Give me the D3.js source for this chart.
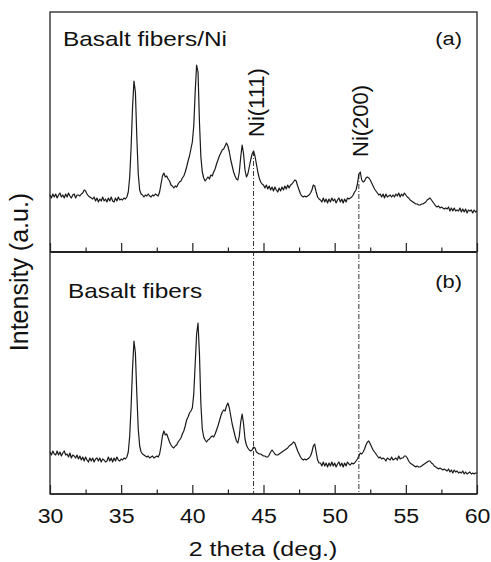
<!DOCTYPE html>
<html>
<head>
<meta charset="utf-8">
<script src="https://cdn.jsdelivr.net/npm/d3@7"></script>
<style>
  body { margin: 0; background: #fff; }
  svg { display: block; font-family: "Liberation Sans", Arial, sans-serif; }
</style>
</head>
<body>
<svg width="491" height="562"></svg>
<script>
// scan grid: 2 theta from 30 to 60 deg, 0.1 deg step
var thetaStart = 30,
    thetaStep = 0.1;

var xTicks = [30, 35, 40, 45, 50, 55, 60],
    xMinorTicks = [32.5, 37.5, 42.5, 47.5, 52.5, 57.5];

// (a) Basalt fibers/Ni, intensity (a.u.)
var basaltNi = [
  57,54,58,55,58,54,57,59,55,57,
  54,58,55,59,56,54,57,58,54,57,
  57,56,58,59,62,61,58,56,55,54,
  53,55,51,54,50,53,51,55,51,53,
  50,54,51,55,51,50,54,51,55,52,
  53,52,54,53,55,60,75,105,145,171,
  160,115,78,62,58,57,55,57,56,58,
  56,55,57,56,58,57,56,60,68,76,
  79,75,76,73,71,67,66,64,66,65,
  68,70,71,74,76,80,85,91,96,103,
  110,126,160,187,180,130,95,80,74,71,
  73,75,73,77,76,80,83,88,92,96,
  99,102,103,106,109,106,100,92,86,80,
  76,73,72,80,95,107,98,82,75,78,
  85,92,98,101,96,88,80,74,70,68,
  67,64,67,63,66,62,65,61,65,62,
  60,64,61,65,62,66,63,67,64,67,
  68,70,72,71,66,62,58,56,55,56,
  55,56,57,59,62,67,66,60,55,53,
  52,50,54,50,53,49,53,50,54,51,
  53,49,52,54,50,53,49,53,50,54,
  53,54,55,57,60,62,68,78,80,72,
  70,71,74,75,74,72,69,66,63,61,
  59,57,58,55,58,54,58,55,56,57,
  55,57,55,58,56,59,55,58,56,59,
  57,55,54,52,51,50,49,48,48,47,
  47,48,48,49,50,52,53,54,52,50,
  48,46,45,46,44,45,44,43,44,43,
  45,41,44,41,44,41,42,41,44,40,
  43,40,43,39,42,41,42,39,42,40,
  41
];

// (b) Basalt fibers, intensity (a.u.)
var basalt = [
  42,39,43,40,39,43,39,42,38,41,
  43,39,40,37,41,36,39,38,36,39,
  35,38,34,37,33,37,34,32,36,33,
  36,32,35,36,33,36,32,35,34,32,
  33,37,33,36,32,36,33,37,34,33,
  35,34,36,35,37,42,58,88,126,153,
  141,100,65,48,42,40,39,38,37,38,
  36,37,38,36,37,38,37,40,48,58,
  63,59,60,56,52,49,47,46,48,49,
  52,54,56,60,63,68,74,77,81,83,
  86,100,130,160,171,140,90,65,57,54,
  52,54,55,57,58,57,60,64,68,73,
  78,82,84,83,88,91,86,78,70,64,
  58,53,51,58,72,80,70,55,49,46,
  44,43,44,47,46,42,41,40,40,39,
  38,38,37,37,39,42,44,42,40,39,
  39,40,41,42,43,44,45,46,48,49,
  50,52,51,47,43,40,37,35,34,35,
  34,35,36,38,42,48,50,42,34,31,
  31,28,32,28,31,27,31,28,32,28,
  31,27,30,32,28,31,27,31,28,32,
  30,29,31,30,31,33,35,38,41,40,
  42,45,49,52,53,50,47,44,42,40,
  38,36,37,35,36,35,33,36,35,34,
  37,34,35,36,34,38,35,36,36,38,
  38,36,33,31,30,29,28,27,28,27,
  27,28,29,30,31,32,33,33,31,30,
  28,27,26,25,26,25,24,25,24,23,
  25,22,24,21,24,22,23,21,22,21,
  23,20,22,20,21,22,20,21,20,21,
  21
];

var niPeaks = [
  {label: "Ni(111)", theta: 44.3},
  {label: "Ni(200)", theta: 51.7}
];

var panelNames = ["Basalt fibers/Ni", "Basalt fibers"],
    panelTags = ["(a)", "(b)"];

// **************************

var svg = d3.select("svg"),
    left = 50, right = 477,
    topA = 12, mid = 252, bottom = 494,
    ink = "#222";

var x = d3.scaleLinear().domain([30, 60]).range([left, right]);
var yA = d3.scaleLinear().domain([0, mid - topA]).range([mid, topA]);
var yB = d3.scaleLinear().domain([0, bottom - mid]).range([bottom, mid]);

function theta(i) { return +(thetaStart + i * thetaStep).toFixed(2); }
function valueAt(series, t) { return series[Math.round((t - thetaStart) / thetaStep)]; }

// frame
svg.append("rect")
    .attr("x", left).attr("y", topA)
    .attr("width", right - left).attr("height", bottom - topA)
    .attr("fill", "none").attr("stroke", ink).attr("stroke-width", 1.3);

// Ni reference lines (dash-dot), from the peak in (a) down through (b)
svg.selectAll(".niline")
    .data(niPeaks)
    .enter().append("line")
      .attr("class", "niline")
      .attr("x1", function(d) { return x(d.theta); })
      .attr("x2", function(d) { return x(d.theta); })
      .attr("y1", function(d) { return yA(valueAt(basaltNi, d.theta)); })
      .attr("y2", bottom)
      .attr("stroke", "#333")
      .attr("stroke-width", 1)
      .attr("stroke-dasharray", "5,2,1,2");

// axes: ticks point inward (upward) on the divider and at the bottom
function drawTicks(yPos, withLabels) {
  var major = svg.append("g")
      .attr("transform", "translate(0," + yPos + ")")
      .call(d3.axisBottom(x).tickValues(xTicks).tickSize(-9).tickPadding(14)
        .tickFormat(withLabels ? d3.format("d") : ""));
  var minor = svg.append("g")
      .attr("transform", "translate(0," + yPos + ")")
      .call(d3.axisBottom(x).tickValues(xMinorTicks).tickSize(-4.5).tickFormat(""));
  [major, minor].forEach(function(g) {
    g.select(".domain").remove();
    g.selectAll("line").attr("stroke", ink).attr("stroke-width", 1.2);
  });
  major.selectAll("text")
      .attr("fill", "#111")
      .style("font-size", "21px")
      .style("font-family", "'Liberation Sans', Arial, sans-serif")
      .attr("transform", "scale(1.1,1)");
}
drawTicks(mid, false);
drawTicks(bottom, true);

svg.append("line")
    .attr("x1", left).attr("x2", right)
    .attr("y1", mid).attr("y2", mid)
    .attr("stroke", ink).attr("stroke-width", 2);
svg.append("line")
    .attr("x1", left).attr("x2", right)
    .attr("y1", bottom).attr("y2", bottom)
    .attr("stroke", ink).attr("stroke-width", 1.6);

// patterns
var line = function(yScale) {
  return d3.line()
    .x(function(d, i) { return x(theta(i)); })
    .y(function(d) { return yScale(d); });
};
[[basaltNi, yA], [basalt, yB]].forEach(function(p) {
  svg.append("path")
      .datum(p[0])
      .attr("fill", "none")
      .attr("stroke", "#1a1a1a")
      .attr("stroke-width", 1.2)
      .attr("stroke-linejoin", "round")
      .attr("d", line(p[1]));
});

// Ni labels (rotated)
var niLabelPos = [{dx: 10, y: 137}, {dx: 9, y: 157}];
svg.selectAll(".nilabel")
    .data(niPeaks)
    .enter().append("text")
      .attr("class", "nilabel")
      .attr("transform", function(d, i) {
        return "translate(" + (x(d.theta) + niLabelPos[i].dx) + "," + niLabelPos[i].y + ") rotate(-90)";
      })
      .attr("fill", "#111")
      .style("font-size", "22px")
      .text(function(d) { return d.label; });

// panel names and tags
var nameY = [45.5, 297.5], tagY = [44.5, 287.5], nameX = [63, 68];
panelNames.forEach(function(name, i) {
  svg.append("text")
      .attr("transform", "translate(" + nameX[i] + "," + nameY[i] + ") scale(1.22,1)")
      .attr("fill", "#111")
      .style("font-size", "20px")
      .text(name);
  svg.append("text")
      .attr("transform", "translate(462," + tagY[i] + ") scale(1.15,1)")
      .attr("text-anchor", "end")
      .attr("fill", "#111")
      .style("font-size", "19px")
      .text(panelTags[i]);
});

// axis titles
svg.append("text")
    .attr("transform", "translate(263,556) scale(1.19,1)")
    .attr("text-anchor", "middle")
    .attr("fill", "#111")
    .style("font-size", "21px")
    .text("2 theta (deg.)");
svg.append("text")
    .attr("transform", "translate(28,272) rotate(-90)")
    .attr("text-anchor", "middle")
    .attr("fill", "#111")
    .style("font-size", "25px")
    .text("Intensity (a.u.)");
</script>
</body>
</html>
